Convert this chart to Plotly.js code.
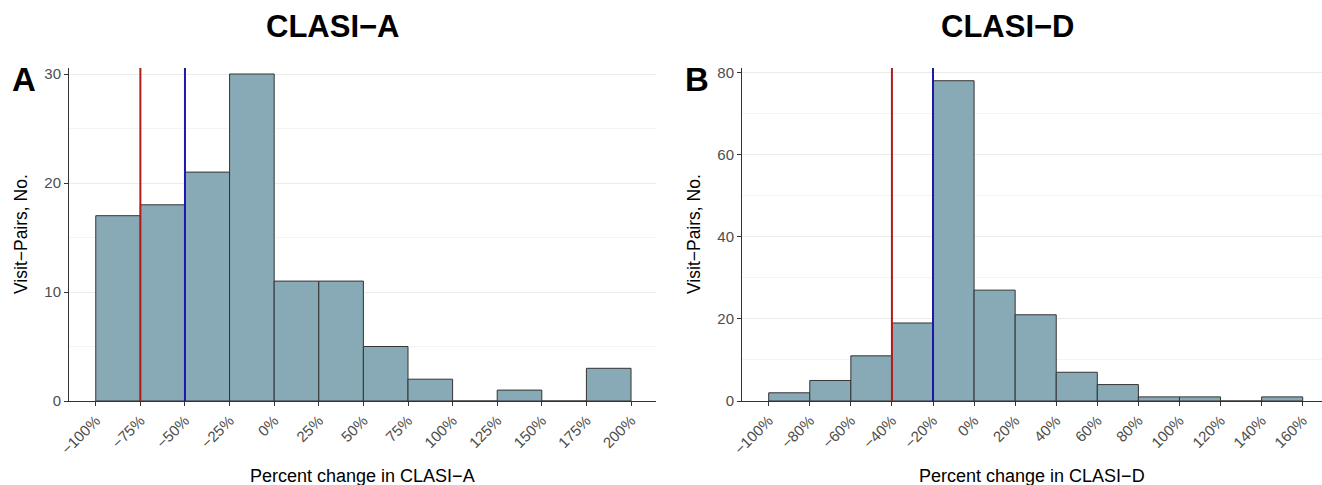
<!DOCTYPE html>
<html>
<head>
<meta charset="utf-8">
<script src="https://cdn.plot.ly/plotly-3.0.1.min.js"></script>
<style>html,body{margin:0;padding:0;background:#fff;}#chart{width:1322px;height:485px;}</style>
</head>
<body>
<div id="chart"></div>
<script>
// ---- Data ----
const binStartsA = [-100, -75, -50, -25, 0, 25, 50, 75, 100, 125, 150, 175];
const countsA    = [17, 18, 21, 30, 11, 11, 5, 2, 0, 1, 0, 3];
const binWidthA  = 25;
const binStartsD = [-100, -80, -60, -40, -20, 0, 20, 40, 60, 80, 100, 120, 140];
const countsD    = [2, 5, 11, 19, 78, 27, 21, 7, 4, 1, 1, 0, 1];
const binWidthD  = 20;
const refLinesA  = [-75, -50];   // red, blue
const refLinesD  = [-40, -20];   // red, blue
const tickValsA  = [-100, -75, -50, -25, 0, 25, 50, 75, 100, 125, 150, 175, 200];
const tickValsD  = [-100, -80, -60, -40, -20, 0, 20, 40, 60, 80, 100, 120, 140, 160];
const yTicksA    = [0, 10, 20, 30];
const yTicksD    = [0, 20, 40, 60, 80];
const titles     = ["CLASI\u2212A", "CLASI\u2212D"];
const panelTags  = ["A", "B"];

// ---- Helpers ----
const W = 1322, H = 485;
const px = v => v / W;
const py = v => (H - v) / H;
const pct = v => (v < 0 ? "\u2212" + Math.abs(v) : String(v)) + "%";
const centers = (starts, w) => starts.map(s => s + w / 2);

const fill = "#88aab6", edge = "#333333";
const lineColors = ["#b31b1b", "#1a1aaa"];
const font = "Liberation Sans, Arial, sans-serif";

const traces = [
  {type: "bar", x: centers(binStartsA, binWidthA), y: countsA, width: binWidthA,
   marker: {color: fill, line: {color: edge, width: 1}}, xaxis: "x", yaxis: "y", hoverinfo: "x+y"},
  {type: "bar", x: centers(binStartsD, binWidthD), y: countsD, width: binWidthD,
   marker: {color: fill, line: {color: edge, width: 1}}, xaxis: "x2", yaxis: "y2", hoverinfo: "x+y"}
];

function xax(domain, range, ticks) {
  return {domain: domain, range: range, tickvals: ticks, ticktext: ticks.map(pct),
    tickangle: -45, ticks: "outside", ticklen: 4, tickwidth: 1, tickcolor: edge,
    showline: true, linecolor: edge, linewidth: 1, showgrid: false, zeroline: false,
    tickfont: {family: font, size: 15, color: "#4d4d4d"}, fixedrange: true};
}
function yax(domain, range, ticks, anchor) {
  return {domain: domain, range: range, tickvals: ticks, anchor: anchor,
    ticks: "outside", ticklen: 4, tickwidth: 1, tickcolor: edge,
    showline: true, linecolor: edge, linewidth: 1, showgrid: true, gridcolor: "#ebebeb", gridwidth: 1,
    minor: {showgrid: true, dtick: (ticks[1] - ticks[0]) / 2, gridcolor: "#f4f4f4", gridwidth: 1},
    zeroline: false, tickfont: {family: font, size: 15, color: "#4d4d4d"}, fixedrange: true};
}

const yDom = [py(401), py(68)];
const layout = {
  width: W, height: H, margin: {l: 0, r: 0, t: 0, b: 0},
  paper_bgcolor: "#fff", plot_bgcolor: "#fff", showlegend: false, bargap: 0,
  xaxis: xax([px(69), px(656)], [-115, 214], tickValsA),
  yaxis: yax(yDom, [0, 30.55], yTicksA, "x"),
  xaxis2: Object.assign(xax([px(742), 1], [-113, 169.4], tickValsD), {anchor: "y2"}),
  yaxis2: yax(yDom, [0, 81.1], yTicksD, "x2"),
  shapes: [],
  annotations: []
};
layout.xaxis.anchor = "y";

[[refLinesA, "x"], [refLinesD, "x2"]].forEach(([vals, xr]) => {
  vals.forEach((v, i) => layout.shapes.push({type: "line", xref: xr, yref: (xr === "x" ? "y" : "y2") + " domain",
    x0: v, x1: v, y0: 0, y1: 1, line: {color: lineColors[i], width: 2}, layer: "above"}));
});

const titleX = [333, 1008];
const tagX = [24, 697];
const yTitleX = [21, 694];
const xTitleX = [362, 1032];
titles.forEach((t, i) => {
  layout.annotations.push({text: "<b>" + t + "</b>", xref: "paper", yref: "paper", x: px(titleX[i]), y: py(26),
    xanchor: "center", yanchor: "middle", showarrow: false, font: {family: font, size: 31, color: "#000"}});
  layout.annotations.push({text: "<b>" + panelTags[i] + "</b>", xref: "paper", yref: "paper", x: px(tagX[i]), y: py(80),
    xanchor: "center", yanchor: "middle", showarrow: false, font: {family: font, size: 33, color: "#000"}});
  layout.annotations.push({text: "Visit\u2212Pairs, No.", xref: "paper", yref: "paper", x: px(yTitleX[i]), y: py(234),
    xanchor: "center", yanchor: "middle", textangle: -90, showarrow: false, font: {family: font, size: 17.5, color: "#000"}});
  layout.annotations.push({text: "Percent change in " + t, xref: "paper", yref: "paper", x: px(xTitleX[i]), y: py(476),
    xanchor: "center", yanchor: "middle", showarrow: false, font: {family: font, size: 18, color: "#000"}});
});

Plotly.newPlot("chart", traces, layout, {displayModeBar: false, staticPlot: true});
</script>
</body>
</html>
